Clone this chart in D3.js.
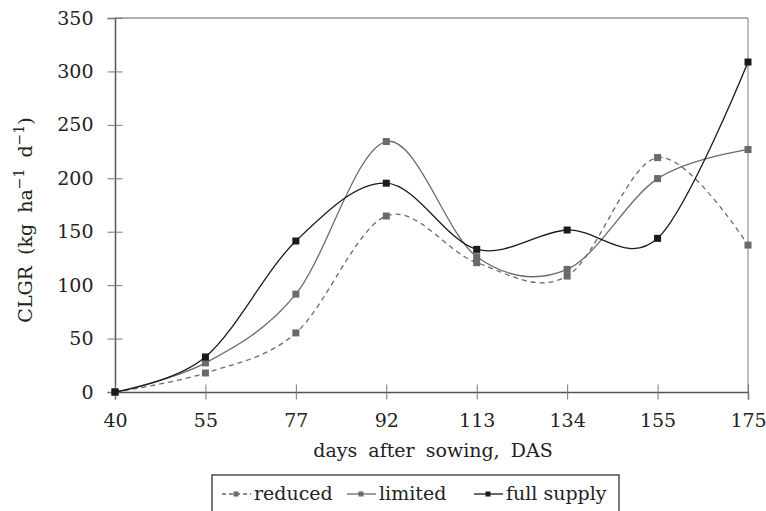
<!DOCTYPE html>
<html>
<head>
<meta charset="utf-8">
<script src="https://cdn.jsdelivr.net/npm/d3@7"></script>
<style>
body { margin: 0; background: #fff; }
text { font-family: "DejaVu Serif", serif; fill: #222; }
</style>
</head>
<body>
<script>
var w = 766;
var h = 511;

// data
var days = ["40", "55", "77", "92", "113", "134", "155", "175"];
var reduced = [0, 17.8, 55.3, 164.7, 121, 108.5, 219.4, 137.5];
var limited = [0, 27.2, 91.6, 234.4, 126.6, 114.7, 199.7, 226.9];
var fullSupply = [0, 32.8, 141.3, 195.4, 133.5, 151.6, 143.8, 308.8];
var yTicks = [0, 50, 100, 150, 200, 250, 300, 350];

var series = [
    {name: "reduced", values: reduced, color: "#6a6a6a", dash: "5,4"},
    {name: "limited", values: limited, color: "#6a6a6a", dash: null},
    {name: "full supply", values: fullSupply, color: "#1a1a1a", dash: null}
];

var plotLeft = 115, plotRight = 748, plotTop = 18, plotBottom = 392;
var fontSize = 19;

var svg = d3.select("body").append("svg")
    .attr("width", w)
    .attr("height", h);

var x = d3.scalePoint().domain(days).range([plotLeft, plotRight]);
var y = d3.scaleLinear().domain([0, 350]).range([plotBottom, plotTop]);

//---frame-----
svg.append("line")
    .attr("x1", plotLeft).attr("x2", plotRight)
    .attr("y1", plotTop).attr("y2", plotTop)
    .attr("stroke", "#999").attr("stroke-width", 1.3);
svg.append("line")
    .attr("x1", plotRight).attr("x2", plotRight)
    .attr("y1", plotTop).attr("y2", plotBottom)
    .attr("stroke", "#999").attr("stroke-width", 1.3);

//---axes-----
var yAxis = svg.append("g")
    .attr("transform", "translate(" + plotLeft + ",0)")
    .call(d3.axisLeft(y).tickValues(yTicks).tickSize(7.5).tickPadding(14));
yAxis.selectAll(".tick line").attr("x2", 7.5).attr("x1", -7.5).attr("stroke", "#777");
yAxis.select(".domain").attr("stroke", "#555").attr("stroke-width", 1.5);
yAxis.selectAll("text").attr("font-size", fontSize).attr("font-family", "DejaVu Serif").attr("fill", "#222");

var xAxis = svg.append("g")
    .attr("transform", "translate(0," + plotBottom + ")")
    .call(d3.axisBottom(x).tickSize(7.5).tickPadding(14));
xAxis.selectAll(".tick line").attr("y1", -7.5).attr("y2", 7.5).attr("stroke", "#777");
xAxis.select(".domain").attr("stroke", "#555").attr("stroke-width", 1.5);
xAxis.selectAll("text").attr("font-size", fontSize).attr("font-family", "DejaVu Serif").attr("fill", "#222");

//---axis titles-----
svg.append("text")
    .attr("x", 433)
    .attr("y", 457)
    .attr("text-anchor", "middle")
    .attr("font-size", fontSize)
    .attr("word-spacing", 5)
    .text("days after sowing, DAS");

var yl = svg.append("text")
    .attr("transform", "translate(32,220) rotate(-90)")
    .attr("text-anchor", "middle")
    .attr("font-size", fontSize)
    .attr("word-spacing", 5);
yl.append("tspan").text("CLGR  (kg ha");
yl.append("tspan").attr("dy", -8).attr("font-size", 14).text("\u22121");
yl.append("tspan").attr("dy", 8).text(" d");
yl.append("tspan").attr("dy", -8).attr("font-size", 14).text("\u22121");
yl.append("tspan").attr("dy", 8).text(")");

//---lines-----
var line = d3.line()
    .x(function (d, i) { return x(days[i]); })
    .y(function (d) { return y(d); })
    .curve(d3.curveCardinal.tension(0));

series.forEach(function (s) {
    svg.append("path")
        .attr("d", line(s.values))
        .attr("fill", "none")
        .attr("stroke", s.color)
        .attr("stroke-width", 1.3)
        .attr("stroke-dasharray", s.dash);
    svg.selectAll(null)
        .data(s.values)
        .enter().append("rect")
        .attr("x", function (d, i) { return x(days[i]) - 3.5; })
        .attr("y", function (d) { return y(d) - 3.5; })
        .attr("width", 7)
        .attr("height", 7)
        .attr("fill", s.color);
});

//---legend-----
svg.append("rect")
    .attr("x", 212).attr("y", 475)
    .attr("width", 407).attr("height", 60)
    .attr("fill", "none")
    .attr("stroke", "#333").attr("stroke-width", 1.3);

var legendX = [222, 347, 474];
series.forEach(function (s, i) {
    var lx = legendX[i];
    svg.append("line")
        .attr("x1", lx).attr("x2", lx + 29)
        .attr("y1", 494).attr("y2", 494)
        .attr("stroke", s.color).attr("stroke-width", 1.3)
        .attr("stroke-dasharray", s.dash ? "4,3" : null);
    svg.append("rect")
        .attr("x", lx + 11.5).attr("y", 491.5)
        .attr("width", 5).attr("height", 5)
        .attr("fill", s.color);
    svg.append("text")
        .attr("x", lx + 32)
        .attr("y", 500)
        .attr("font-size", fontSize)
        .text(s.name);
});
</script>
</body>
</html>
